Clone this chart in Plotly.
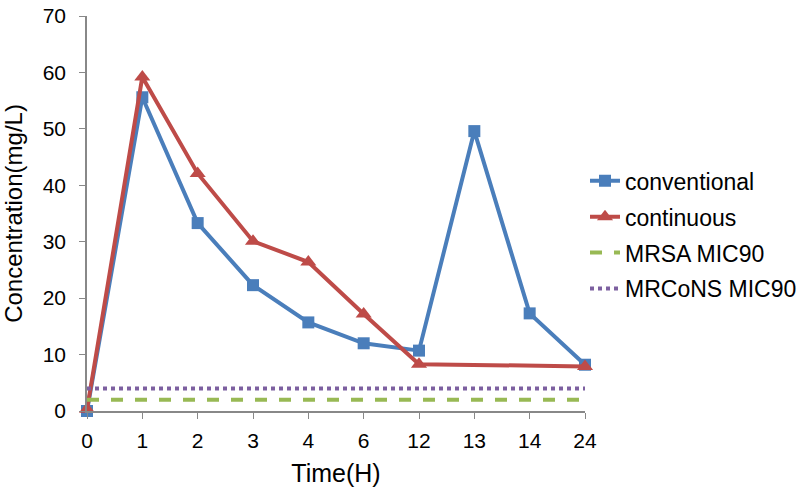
import plotly.graph_objects as go

times = ["0", "1", "2", "3", "4", "6", "12", "13", "14", "24"]
conventional = [0, 55.6, 33.3, 22.3, 15.7, 12.0, 10.7, 49.6, 17.3, 8.2]
continuous = [0.3, 59.2, 42.1, 30.1, 26.4, 17.2, 8.3, None, None, 7.9]
mrsa_mic90 = [2] * len(times)
mrcons_mic90 = [4] * len(times)

FONT = "Liberation Sans, Arial, sans-serif"

fig = go.Figure()
fig.add_trace(go.Scatter(
    x=times, y=conventional, name="conventional", mode="lines+markers",
    line=dict(color="#4A7EBB", width=4),
    marker=dict(symbol="square", size=12, color="#4A7EBB"),
    cliponaxis=False, legendgroup="a"))
fig.add_trace(go.Scatter(
    x=times, y=continuous, name="continuous", mode="lines+markers",
    connectgaps=True,
    line=dict(color="#BE4B48", width=4),
    marker=dict(symbol="triangle-up", size=14, color="#BE4B48"),
    cliponaxis=False, legendgroup="b"))
fig.add_trace(go.Scatter(
    x=times, y=mrsa_mic90, name="MRSA MIC90", mode="lines",
    line=dict(color="#98B954", width=4, dash="dash"),
    cliponaxis=False, legendgroup="c"))
fig.add_trace(go.Scatter(
    x=times, y=mrcons_mic90, name="MRCoNS MIC90", mode="lines",
    line=dict(color="#7D60A0", width=4, dash="dot"),
    cliponaxis=False, legendgroup="d"))

fig.update_layout(
    width=799, height=489,
    margin=dict(l=87, r=214, t=16, b=78, autoexpand=False),
    paper_bgcolor="white", plot_bgcolor="white",
    font=dict(family=FONT, size=23, color="black"),
    legend=dict(x=1.0, xanchor="left", y=0.446, yanchor="middle",
                font=dict(size=23), tracegroupgap=3, itemwidth=30,
                bgcolor="rgba(0,0,0,0)"),
    xaxis=dict(type="category", range=[0, 9], showline=True, automargin=False,
               linecolor="#888888", linewidth=1.5, ticks="outside",
               ticklen=6, tickcolor="#888888", showgrid=False, zeroline=False,
               tickfont=dict(size=21), ticklabelstandoff=4,
               title=dict(text="Time(H)", font=dict(size=25), standoff=14)),
    yaxis=dict(range=[0, 70], dtick=10, showline=True, automargin=False,
               linecolor="#888888", linewidth=1.5, ticks="outside",
               ticklen=6, tickcolor="#888888", showgrid=False, zeroline=False,
               tickfont=dict(size=21), ticklabelstandoff=9,
               title=dict(text="Concentration(mg/L)", font=dict(size=24), standoff=18)),
)

fig.write_html("out.html", config={"displayModeBar": False},
               post_script="document.body.style.margin='0';document.body.style.overflow='hidden';")
